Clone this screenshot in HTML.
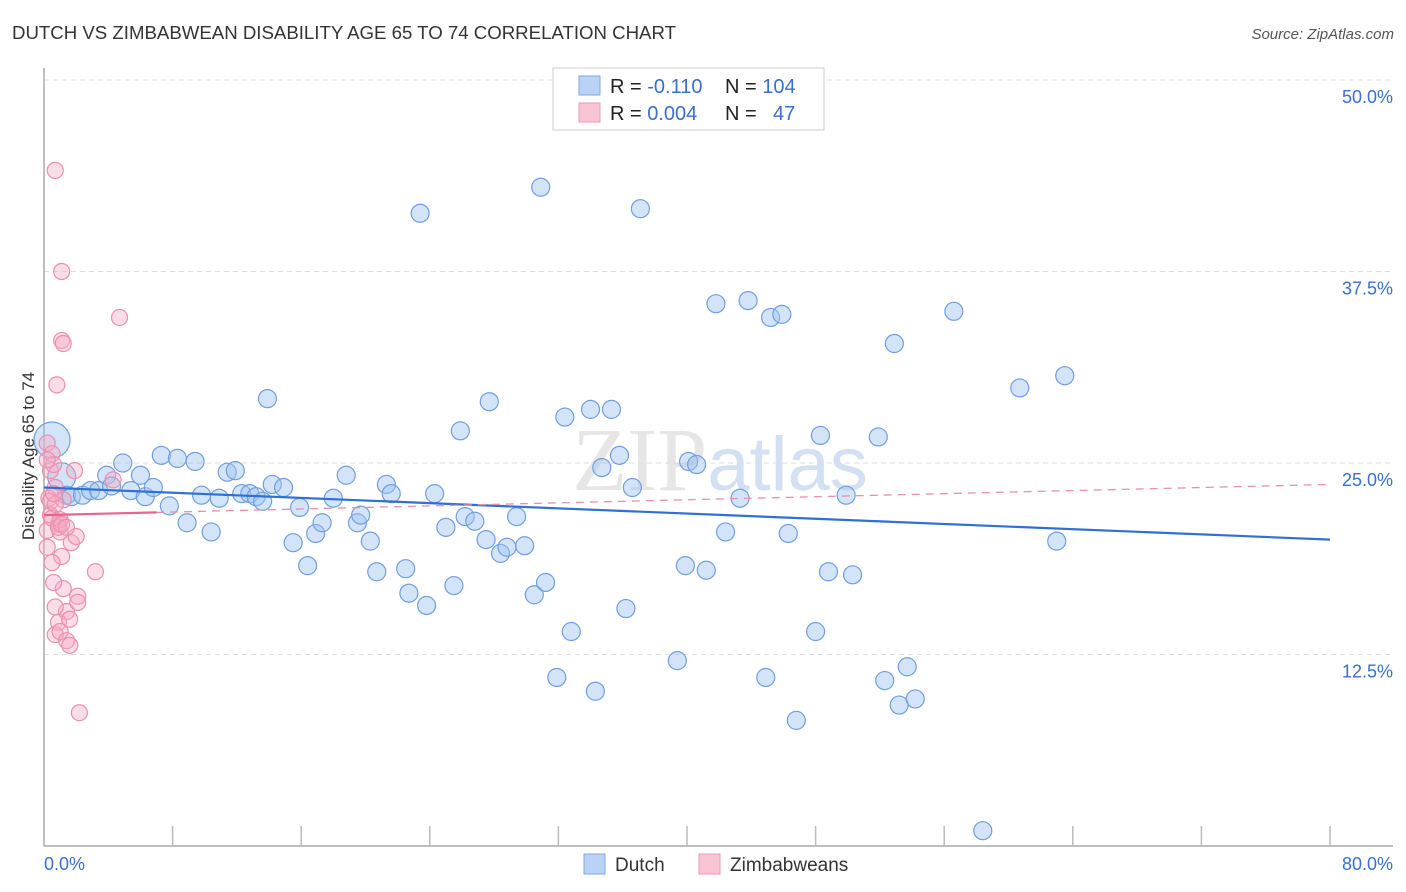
<!DOCTYPE html>
<html><head><meta charset="utf-8"><style>
body{margin:0;background:#fff;font-family:"Liberation Sans",sans-serif;}
#wrap{position:relative;width:1406px;height:892px;overflow:hidden;}
</style></head><body>
<div id="wrap">
<svg id="svg" width="1406" height="892">
<text x="12" y="39" font-size="18" fill="#333" textLength="664" lengthAdjust="spacingAndGlyphs">DUTCH VS ZIMBABWEAN DISABILITY AGE 65 TO 74 CORRELATION CHART</text>
<text x="1394" y="39" font-size="15" fill="#555" font-style="italic" text-anchor="end">Source: ZipAtlas.com</text>
<text x="34" y="456" font-size="17" fill="#333" text-anchor="middle" transform="rotate(-90 34 456)">Disability Age 65 to 74</text>
<text x="720" y="490" font-size="90" fill="#e6e6e6" text-anchor="middle" font-family="Liberation Serif,serif">ZIP<tspan fill="#d3e0f3" font-family="Liberation Sans,sans-serif" font-size="76">atlas</tspan></text>
<g id="grid"></g><g id="axes"></g><g id="pts"></g><g id="trend"></g>
<g>
<rect x="553" y="68" width="271" height="62" fill="#fff" stroke="#ccc"/>
<rect x="579" y="76" width="21" height="19" fill="#b9d2f5" stroke="#7ea9e8"/>
<rect x="579" y="103" width="21" height="19" fill="#f8c5d4" stroke="#ee9ab4"/>
<text x="610" y="93" font-size="20" fill="#222">R = <tspan fill="#3a6fd0">-0.110</tspan><tspan x="725">N = </tspan><tspan fill="#3a6fd0">104</tspan></text>
<text x="610" y="120" font-size="20" fill="#222">R = <tspan fill="#3a6fd0">0.004</tspan><tspan x="725">N = </tspan><tspan fill="#3a6fd0" x="773">47</tspan></text>
</g>
<g>
<rect x="584" y="854" width="21" height="20" fill="#b9d2f5" stroke="#7ea9e8"/>
<text x="615" y="871" font-size="19" fill="#333">Dutch</text>
<rect x="699" y="854" width="21" height="20" fill="#f8c5d4" stroke="#ee9ab4"/>
<text x="730" y="871" font-size="19" fill="#333">Zimbabweans</text>
</g>
</svg>
</div>
<script>
const blueX=[0.5,1.1,1.4,1.7,2.4,2.9,3.4,3.9,4.2,4.9,5.4,6.0,6.3,6.8,7.3,7.8,8.3,8.9,9.4,9.8,10.4,10.9,11.4,11.9,12.3,12.8,13.2,13.6,13.9,14.2,14.9,15.5,15.9,16.4,16.9,17.3,18.0,18.8,19.5,19.7,20.3,20.7,21.3,21.6,22.5,22.7,23.4,23.8,24.3,25.0,25.5,25.9,26.2,26.8,27.5,27.7,28.4,28.8,29.4,29.9,30.5,30.9,31.2,31.9,32.4,32.8,34.0,34.3,34.7,35.3,35.8,36.2,36.6,37.1,39.4,39.9,40.1,40.6,41.2,41.8,42.4,43.3,43.8,44.9,45.2,45.9,46.3,46.8,48.0,48.3,48.8,49.9,50.3,51.9,52.3,52.9,53.2,53.7,54.2,56.6,58.4,60.7,63.0,63.5];
const blueY=[26.5,24.1,22.9,22.8,22.9,23.2,23.2,24.2,23.5,25.0,23.2,24.2,22.8,23.4,25.5,22.2,25.3,21.1,25.1,22.9,20.5,22.7,24.4,24.5,23.0,23.0,22.8,22.5,29.2,23.6,23.4,19.8,22.1,18.3,20.4,21.1,22.7,24.2,21.1,21.6,19.9,17.9,23.6,23.0,18.1,16.5,41.3,15.7,23.0,20.8,17.0,27.1,21.5,21.2,20.0,29.0,19.1,19.5,21.5,19.6,16.4,43.0,17.2,11.0,28.0,14.0,28.5,10.1,24.7,28.5,25.5,15.5,23.4,41.6,12.1,18.3,25.1,24.9,18.0,35.4,20.5,22.7,35.6,11.0,34.5,34.7,20.4,8.2,14.0,26.8,17.9,22.9,17.7,26.7,10.8,32.8,9.2,11.7,9.6,34.9,1.0,29.9,19.9,30.7];
const pinkX=[0.2,0.4,0.3,0.4,0.2,0.2,0.5,0.6,0.7,0.7,0.9,1.0,1.1,1.0,1.1,0.8,1.1,1.2,1.2,1.4,0.7,0.6,0.9,0.7,1.0,1.4,1.6,1.6,1.7,1.9,2.0,2.1,2.1,2.2,3.2,4.3,4.7,0.4,0.5,0.9,1.2,0.5,0.7,0.2,0.6,1.1,1.4];
const pinkY=[26.3,24.5,22.7,21.6,20.6,19.5,25.6,24.9,44.1,23.4,21.0,20.5,37.5,21.3,33.0,30.1,18.9,32.8,16.8,15.3,15.6,17.2,14.6,13.8,14.0,13.4,13.1,14.8,19.8,24.5,20.2,16.3,15.9,8.7,17.9,23.9,34.5,22.5,21.4,20.8,22.6,18.5,22.3,25.2,23.0,21.0,20.8];
const yTicks=[12.5,25,37.5,50];
const xTickLabels=["0.0%","80.0%"];
const blueTrend=[23.4,20.0];
const pinkTrend=[21.6,23.6];
const NS="http://www.w3.org/2000/svg";
const X0=44,X1=1330,Y0=846,YS=766/50;
const sx=v=>X0+(v/80)*(X1-X0);
const sy=v=>Y0-v*YS;
function mk(tag,attrs,parent){const e=document.createElementNS(NS,tag);for(const k in attrs)e.setAttribute(k,attrs[k]);document.getElementById(parent).appendChild(e);return e;}
yTicks.forEach(t=>{
  const l=mk('line',{x1:X0,x2:1393,y1:sy(t),y2:sy(t),stroke:'#ddd','stroke-dasharray':'5,4'},'grid');
  
  
  const tx=mk('text',{x:1393,y:sy(t)+23,'font-size':18,fill:'#3a6fd0','text-anchor':'end'},'grid');
  tx.textContent=(t%1===0?t.toFixed(1):t)+'%';
  
  
});
mk('line',{x1:X0,x2:X0,y1:68,y2:Y0,stroke:'#aaa','stroke-width':1.5},'axes');
mk('line',{x1:X0,x2:1393,y1:Y0,y2:Y0,stroke:'#aaa','stroke-width':1.5},'axes');
for(let i=1;i<=10;i++){const x=sx(i*8);mk('line',{x1:x,x2:x,y1:826,y2:Y0,stroke:'#bbb','stroke-width':1.5},'axes');}
[[0,'start',X0],[1,'end',1393]].forEach(([i,a,x])=>{const t=mk('text',{x:x,y:870,'font-size':18,fill:'#3a6fd0','text-anchor':a},'axes');t.textContent=xTickLabels[i];
  
  });
blueX.forEach((v,i)=>{
  const r=i===0?18:(i===1?14:9);
  const c=mk('circle',{cx:sx(v),cy:sy(blueY[i]),r:r,fill:'rgba(160,195,240,0.45)',stroke:'#6f9fe0','stroke-width':1.2},'pts');
  
  
});
pinkX.forEach((v,i)=>{
  const c=mk('circle',{cx:sx(v),cy:sy(pinkY[i]),r:8,fill:'rgba(245,170,195,0.4)',stroke:'#ec8fae','stroke-width':1.2},'pts');
  
  
});
const bl=mk('line',{x1:sx(0),y1:sy(blueTrend[0]),x2:sx(80),y2:sy(blueTrend[1]),stroke:'#2f6fd6','stroke-width':2.2},'trend');


const pd=mk('line',{x1:sx(0),y1:sy(pinkTrend[0]),x2:sx(80),y2:sy(pinkTrend[1]),stroke:'#eb8fae','stroke-width':1.3,'stroke-dasharray':'8,6'},'trend');


const px=7,pyv=pinkTrend[0]+(pinkTrend[1]-pinkTrend[0])*px/80;
const ps=mk('line',{x1:sx(0),y1:sy(pinkTrend[0]),x2:sx(px),y2:sy(pyv),stroke:'#e8648f','stroke-width':2.2},'trend');


</script>
</body></html>
